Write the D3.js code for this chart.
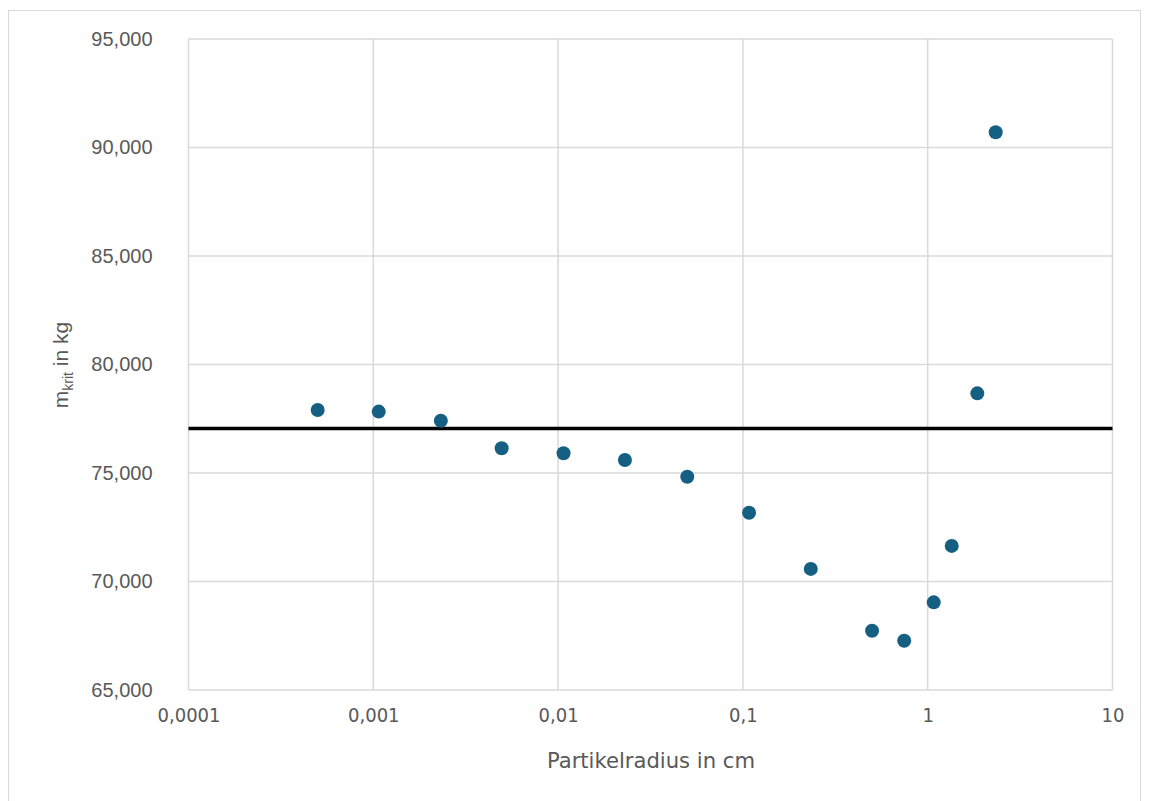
<!DOCTYPE html>
<html>
<head>
<meta charset="utf-8">
<script src="https://cdn.jsdelivr.net/npm/d3@7"></script>
<style>
  body { margin: 0; background: #fff; }
  svg { display: block; }
</style>
</head>
<body>
<svg id="chart" width="1149" height="801"></svg>
<script>
// Data
const radius = [0.0005, 0.00107, 0.00232, 0.00495, 0.0107, 0.023, 0.050, 0.108, 0.233, 0.50, 0.746, 1.078, 1.349, 1.855, 2.333];
const mKrit  = [77.90, 77.83, 77.41, 76.14, 75.91, 75.60, 74.83, 73.17, 70.58, 67.73, 67.27, 69.04, 71.64, 78.67, 90.70];
const refLine = [77.05];
const xTicks = [0.0001, 0.001, 0.01, 0.1, 1, 10];
const xTickLabels = ["0,0001", "0,001", "0,01", "0,1", "1", "10"];
const yTicks = [65, 70, 75, 80, 85, 90, 95];

const de = d3.formatLocale({decimal: ",", thousands: ".", grouping: [3], currency: ["", " €"]});
const yFmt = de.format(".3f");

const svg = d3.select("#chart");
const m = {left: 188.5, right: 1112.5, top: 39, bottom: 690};
const narrow = "'Liberation Sans Narrow', 'DejaVu Sans Condensed', sans-serif";

// outer chart border
svg.append("rect").attr("x", 8.5).attr("y", 10.5).attr("width", 1132).attr("height", 800)
  .attr("fill", "none").attr("stroke", "#d9d9d9").attr("stroke-width", 1);

const x = d3.scaleLog().domain([0.0001, 10]).range([m.left, m.right]);
const y = d3.scaleLinear().domain([65, 95]).range([m.bottom, m.top]);

// gridlines
const grid = svg.append("g");
grid.selectAll("line.gy").data(yTicks).join("line")
  .attr("x1", m.left).attr("x2", m.right)
  .attr("y1", d => y(d)).attr("y2", d => y(d))
  .attr("stroke", "#d9d9d9").attr("stroke-width", 1.5);
grid.selectAll("line.gx").data(xTicks).join("line")
  .attr("y1", m.top).attr("y2", m.bottom)
  .attr("x1", d => x(d)).attr("x2", d => x(d))
  .attr("stroke", "#d9d9d9").attr("stroke-width", 1.5);

// y axis labels
const yAxis = d3.axisLeft(y).tickValues(yTicks).tickFormat(yFmt).tickSize(0).tickPadding(36);
const gy = svg.append("g").attr("transform", `translate(${m.left},0)`).call(yAxis);
gy.select(".domain").remove();
gy.selectAll("text").attr("font-family", "'Liberation Sans', Arial, sans-serif")
  .attr("font-size", 20).attr("fill", "#595959");

// x axis labels
const xAxis = d3.axisBottom(x).tickValues(xTicks).tickFormat((d, i) => xTickLabels[i]).tickSize(0).tickPadding(18);
const gx = svg.append("g").attr("transform", `translate(0,${m.bottom})`).call(xAxis);
gx.select(".domain").remove();
gx.selectAll("text").attr("font-family", narrow)
  .attr("font-size", 20).attr("fill", "#595959");

// reference line
svg.selectAll("line.ref").data(refLine).join("line")
  .attr("x1", m.left).attr("x2", m.right)
  .attr("y1", d => y(d)).attr("y2", d => y(d))
  .attr("stroke", "#000").attr("stroke-width", 3.5);

// points
svg.append("g").selectAll("circle").data(radius.map((r, i) => [r, mKrit[i]])).join("circle")
  .attr("cx", d => x(d[0])).attr("cy", d => y(d[1])).attr("r", 7)
  .attr("fill", "#156082");

// axis titles
svg.append("text").attr("x", 651).attr("y", 768)
  .attr("text-anchor", "middle")
  .attr("font-family", narrow)
  .attr("font-size", 22).attr("fill", "#595959")
  .attr("textLength", 208).attr("lengthAdjust", "spacingAndGlyphs")
  .text("Partikelradius in cm");

const yt = svg.append("text").attr("transform", `translate(68,365) rotate(-90)`)
  .attr("text-anchor", "middle")
  .attr("font-family", "'Liberation Sans', Arial, sans-serif")
  .attr("font-size", 21).attr("fill", "#595959");
yt.append("tspan").text("m");
yt.append("tspan").attr("font-size", 14).attr("dy", 5).text("krit");
yt.append("tspan").attr("dy", -5).text(" in kg");
</script>
</body>
</html>
